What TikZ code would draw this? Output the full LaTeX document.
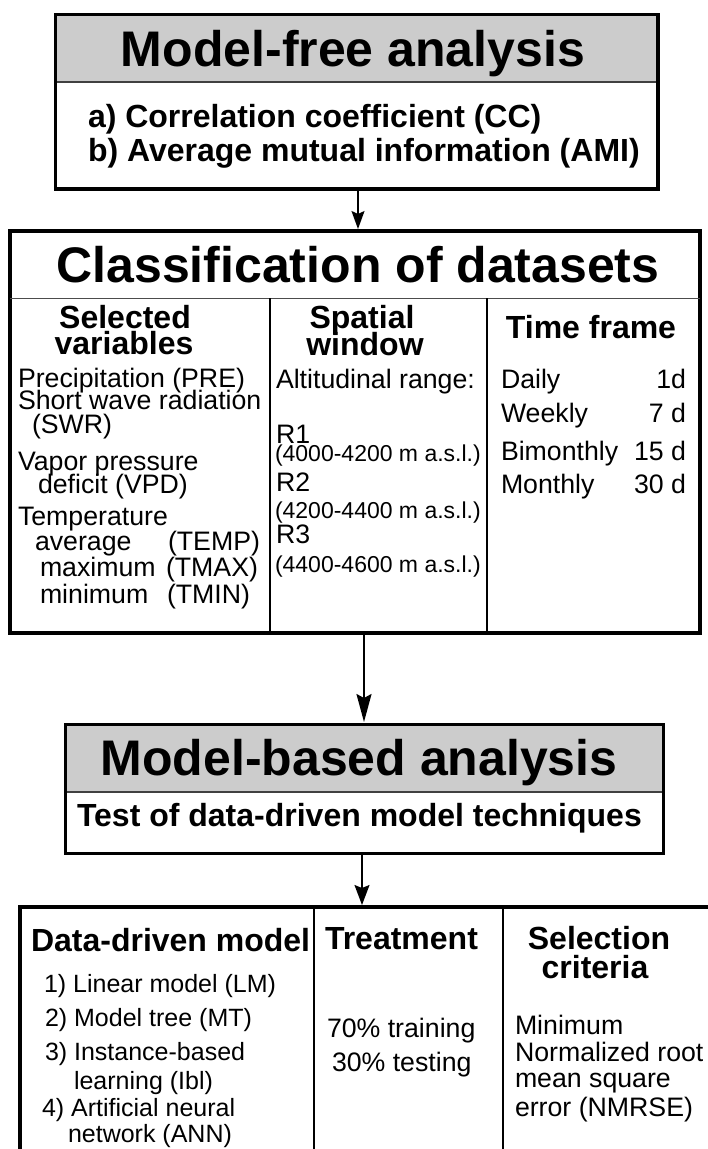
\documentclass[tikz,border=0pt]{standalone}
\usepackage{fontspec}
\setmainfont{Liberation Sans}
\usetikzlibrary{arrows.meta}
\definecolor{hgray}{RGB}{204,204,204}
\begin{document}
\begin{tikzpicture}[x=1pt,y=-1pt,
  outer/.style={draw, inner sep=0pt, outer sep=0pt, anchor=north west},
  hdr/.style={fill=hgray, inner sep=0pt, outer sep=0pt, anchor=north west},
  sepline/.style={line width=1.2pt, black!75},
  divider/.style={line width=2.6pt},
  txt/.style={inner sep=0pt, outer sep=0pt, text depth=0pt},
  ttl/.style={txt, text height=36pt, font=\bfseries\fontsize{50}{50}\selectfont},
  hd/.style={txt, text height=23pt, font=\bfseries\fontsize{32}{32}\selectfont},
  tx/.style={txt, text height=19.2pt, font=\fontsize{26.7}{27}\selectfont},
  li/.style={txt, text height=18pt, font=\fontsize{25}{25}\selectfont},
  sm/.style={txt, text height=16.6pt, font=\fontsize{23}{23}\selectfont},
  arrow/.style={line width=#1, shorten >=2pt}
]
\useasboundingbox (0,0) rectangle (708,1149);
\clip (0,0) rectangle (708,1149);

% ---------- Box 1: Model-free analysis
\node[hdr, minimum width=603pt, minimum height=68pt] (mfh) at (55,14) {};
\draw[sepline] (mfh.south west) -- (mfh.south east);
\node[outer, line width=3pt, minimum width=603pt, minimum height=175pt] (mf) at (55,14) {};
\draw[line width=4pt] (mf.north east) -- (mf.south east) -- (mf.south west);
\node[ttl] (mft) at (353,48) {Model-free analysis};
\node[hd, anchor=west] (mfa) at (88,116) {a) Correlation coefficient (CC)};
\node[hd, anchor=west] (mfb) at (88,150) {b) Average mutual information (AMI)};

% ---------- Box 2: Classification of datasets
\node[outer, line width=4pt, minimum width=690pt, minimum height=402pt] (cd) at (10,231) {};
\draw[line width=1pt, black!70] (10,298) -- (700,298);
\draw[divider] (270,298) -- (270,633);
\draw[divider] (487,298) -- (487,633);
\node[ttl] (cdt) at (358,264) {Classification of datasets};

\node[hd] (c1a) at (125,317) {Selected};
\node[hd] (c1b) at (124,343) {variables};
\node[tx, anchor=west] (v1) at (18,378) {Precipitation (PRE)};
\node[tx, anchor=west] (v2) at (18,400) {Short wave radiation};
\node[tx, anchor=west] (v3) at (32,424) {(SWR)};
\node[tx, anchor=west] (v4) at (18,461) {Vapor pressure};
\node[tx, anchor=west] (v5) at (38,484) {deficit (VPD)};
\node[tx, anchor=west] (v6) at (18,516) {Temperature};
\node[tx, anchor=west] (v7) at (35,541) {average};
\node[tx, anchor=west] (v7b) at (168,541) {(TEMP)};
\node[tx, anchor=west] (v8) at (40,567) {maximum};
\node[tx, anchor=west] (v8b) at (166,567) {(TMAX)};
\node[tx, anchor=west] (v9) at (40,594) {minimum};
\node[tx, anchor=west] (v9b) at (167,594) {(TMIN)};

\node[hd] (c2a) at (362,317) {Spatial};
\node[hd] (c2b) at (365,344) {window};
\node[tx, anchor=west] (s0) at (276,379) {Altitudinal range:};
\node[tx, anchor=west] (s1) at (276,434) {R1};
\node[sm, anchor=west] (s1r) at (275,453) {(4000-4200 m a.s.l.)};
\node[tx, anchor=west] (s2) at (276,482) {R2};
\node[sm, anchor=west] (s2r) at (275,510) {(4200-4400 m a.s.l.)};
\node[tx, anchor=west] (s3) at (276,534) {R3};
\node[sm, anchor=west] (s3r) at (275,564) {(4400-4600 m a.s.l.)};

\node[hd] (c3) at (591,327) {Time frame};
\node[tx, anchor=west] (t1) at (501,379) {Daily};
\node[tx, anchor=east] (t1v) at (686,379) {1d};
\node[tx, anchor=west] (t2) at (501,413) {Weekly};
\node[tx, anchor=east] (t2v) at (686,413) {7 d};
\node[tx, anchor=west] (t3) at (501,451) {Bimonthly};
\node[tx, anchor=east] (t3v) at (686,451) {15 d};
\node[tx, anchor=west] (t4) at (501,484) {Monthly};
\node[tx, anchor=east] (t4v) at (686,484) {30 d};

% ---------- Box 3: Model-based analysis
\node[hdr, minimum width=598pt, minimum height=68pt] (mbh) at (65,724) {};
\draw[sepline] (mbh.south west) -- (mbh.south east);
\node[outer, line width=3pt, minimum width=598pt, minimum height=129pt] (mb) at (65,724) {};
\node[ttl] (mbt) at (359,757) {Model-based analysis};
\node[hd, anchor=west] (mbs) at (77,815) {Test of data-driven model techniques};

% ---------- Box 4: models
\node[outer, line width=4pt, minimum width=720pt, minimum height=300pt] (dd) at (20,907) {};
\draw[divider] (314,907) -- (314,1160);
\draw[divider] (503,907) -- (503,1160);
\node[hd, anchor=west] (d1) at (31,940) {Data-driven model};
\node[li, anchor=west] (m1) at (44,983) {1) Linear model (LM)};
\node[li, anchor=west] (m2) at (45,1017) {2) Model tree (MT)};
\node[li, anchor=west] (m3) at (45,1051) {3) Instance-based};
\node[li, anchor=west] (m3b) at (74,1080) {learning (Ibl)};
\node[li, anchor=west] (m4) at (42,1107) {4) Artificial neural};
\node[li, anchor=west] (m4b) at (68,1133) {network (ANN)};

\node[hd, anchor=west] (d2) at (325,938) {Treatment};
\node[tx, anchor=west] (tr1) at (327,1028) {70\% training};
\node[tx, anchor=west] (tr2) at (332,1062) {30\% testing};

\node[hd] (d3a) at (599,938) {Selection};
\node[hd] (d3b) at (595,967) {criteria};
\node[tx, anchor=west] (sc1) at (515,1025) {Minimum};
\node[tx, anchor=west] (sc2) at (515,1052) {Normalized root};
\node[tx, anchor=west] (sc3) at (515,1078) {mean square};
\node[tx, anchor=west] (sc4) at (515,1107) {error (NMRSE)};

% ---------- Connectors
\draw[arrow=1.5pt, -{Stealth[length=18pt,width=13pt,inset=3pt]}]
  ([xshift=1.5pt]mf.south) -- ([xshift=1.5pt]mf.south |- cd.north);
\draw[arrow=2pt, -{Stealth[length=28pt,width=15pt,inset=4pt]}]
  (mb.north |- cd.south) -- (mb.north);
\draw[arrow=1.5pt, -{Stealth[length=20pt,width=15pt,inset=3pt]}]
  ([xshift=-2pt]mb.south) -- ([xshift=-2pt]mb.south |- dd.north);
\end{tikzpicture}
\end{document}
